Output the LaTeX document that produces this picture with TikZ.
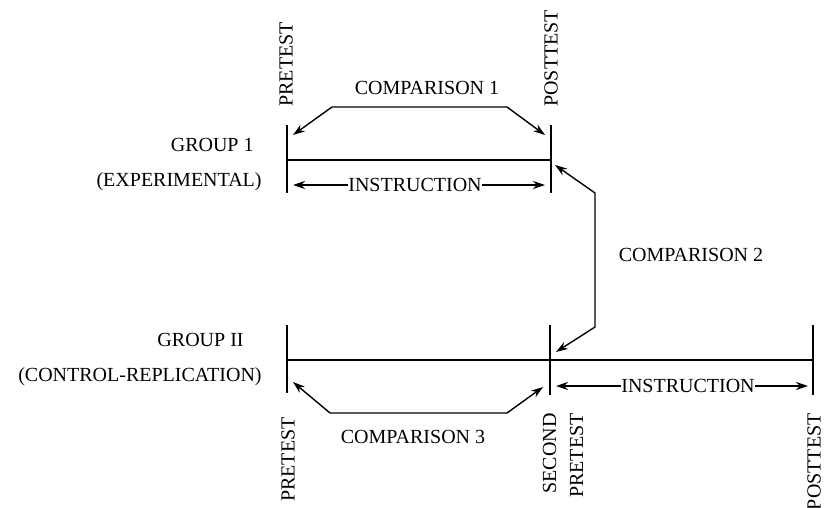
\documentclass[tikz,border=0pt]{standalone}
\usepackage{fontspec}
\setmainfont{Liberation Serif}
\usepackage{tikz}
\usetikzlibrary{arrows.meta}
\tikzset{
  txt/.style={inner sep=0pt, font=\fontsize{10}{13.5}\selectfont},
  vtxt/.style={txt, rotate=90},
  tick/.style={line width=0.8pt},
  arr/.style={line width=0.7pt, -{Stealth[length=6pt,width=4pt]}},
  darr/.style={line width=0.7pt, {Stealth[length=6pt,width=4pt]}-{Stealth[length=6pt,width=4pt]}}
}

\begin{document}
\begin{tikzpicture}[x=0.5pt, y=-0.5pt]
		%%%%% START %%%%%
		\useasboundingbox (0,0) rectangle (824,508);
		
		% group 1 time line
		\coordinate (pa) at (287,125); \coordinate (pb) at (287,193);
		\coordinate (qa) at (551,125); \coordinate (qb) at (551,193);
		\draw[tick] (pa) -- (pb);
		\draw[tick] (qa) -- (qb);
		\draw[tick] (287,160) -- (551,160);
		
		% group 2 time line
		\coordinate (ra) at (287,325); \coordinate (rb) at (287,393);
		\coordinate (sa) at (550,325); \coordinate (sb) at (550,395);
		\coordinate (ta) at (813,325); \coordinate (tb) at (813,395);
		\draw[tick] (ra) -- (rb);
		\draw[tick] (sa) -- (sb);
		\draw[tick] (ta) -- (tb);
		\draw[tick] (287,360) -- (813,360);
		
		% labels
		\node[txt, anchor=east] (g1) at (254,145) {GROUP 1};
		\node[txt, anchor=east] (g1x) at (262,182) {(EXPERIMENTAL)};
		\node[txt, anchor=east] (g2) at (244,340) {GROUP II};
		\node[txt, anchor=east] (g2x) at (262,377) {(CONTROL-REPLICATION)};
		
		\node[vtxt, anchor=west] (pre1) at (286,107) {PRETEST};
		\node[vtxt, anchor=west] (post1) at (551,107) {POSTTEST};
		\node[vtxt, anchor=east] (pre2) at (288,417) {PRETEST};
		\node[vtxt, anchor=east, align=right] (pre3) at (563,413) {SECOND\\PRETEST};
		\node[vtxt, anchor=east] (post2) at (814,413) {POSTTEST};
		
		% comparisons
		\node[txt] (c1) at (427,88) {COMPARISON 1};
		\coordinate (c1l) at (293,135); \coordinate (c1r) at (545,135);
		\draw[darr] (c1l) -- (332,107) -- (507,107) -- (c1r);
		
		\node[txt] (c2) at (691,255) {COMPARISON 2};
		\coordinate (c2a) at (555,165); \coordinate (c2b) at (556,352);
		\draw[darr] (c2a) -- (595,193) -- (595,327) -- (c2b);
		
		\node[txt] (c3) at (413,437) {COMPARISON 3};
		\coordinate (c3l) at (293,382); \coordinate (c3r) at (543,387);
		\draw[darr] (c3l) -- (330,413) -- (507,413) -- (c3r);
		
		% instruction spans
		\node[txt] (in1) at (415,185) {INSTRUCTION};
		\coordinate (in1l) at (293,185); \coordinate (in1r) at (545,185);
		\draw[arr] (in1.west) -- (in1l);
		\draw[arr] (in1.east) -- (in1r);
		
		\node[txt] (in2) at (688,386) {INSTRUCTION};
		\coordinate (in2l) at (556,386); \coordinate (in2r) at (808,386);
		\draw[arr] (in2.west) -- (in2l);
		\draw[arr] (in2.east) -- (in2r);
		
		%%%%% END %%%%%
	\end{tikzpicture}
\end{document}
